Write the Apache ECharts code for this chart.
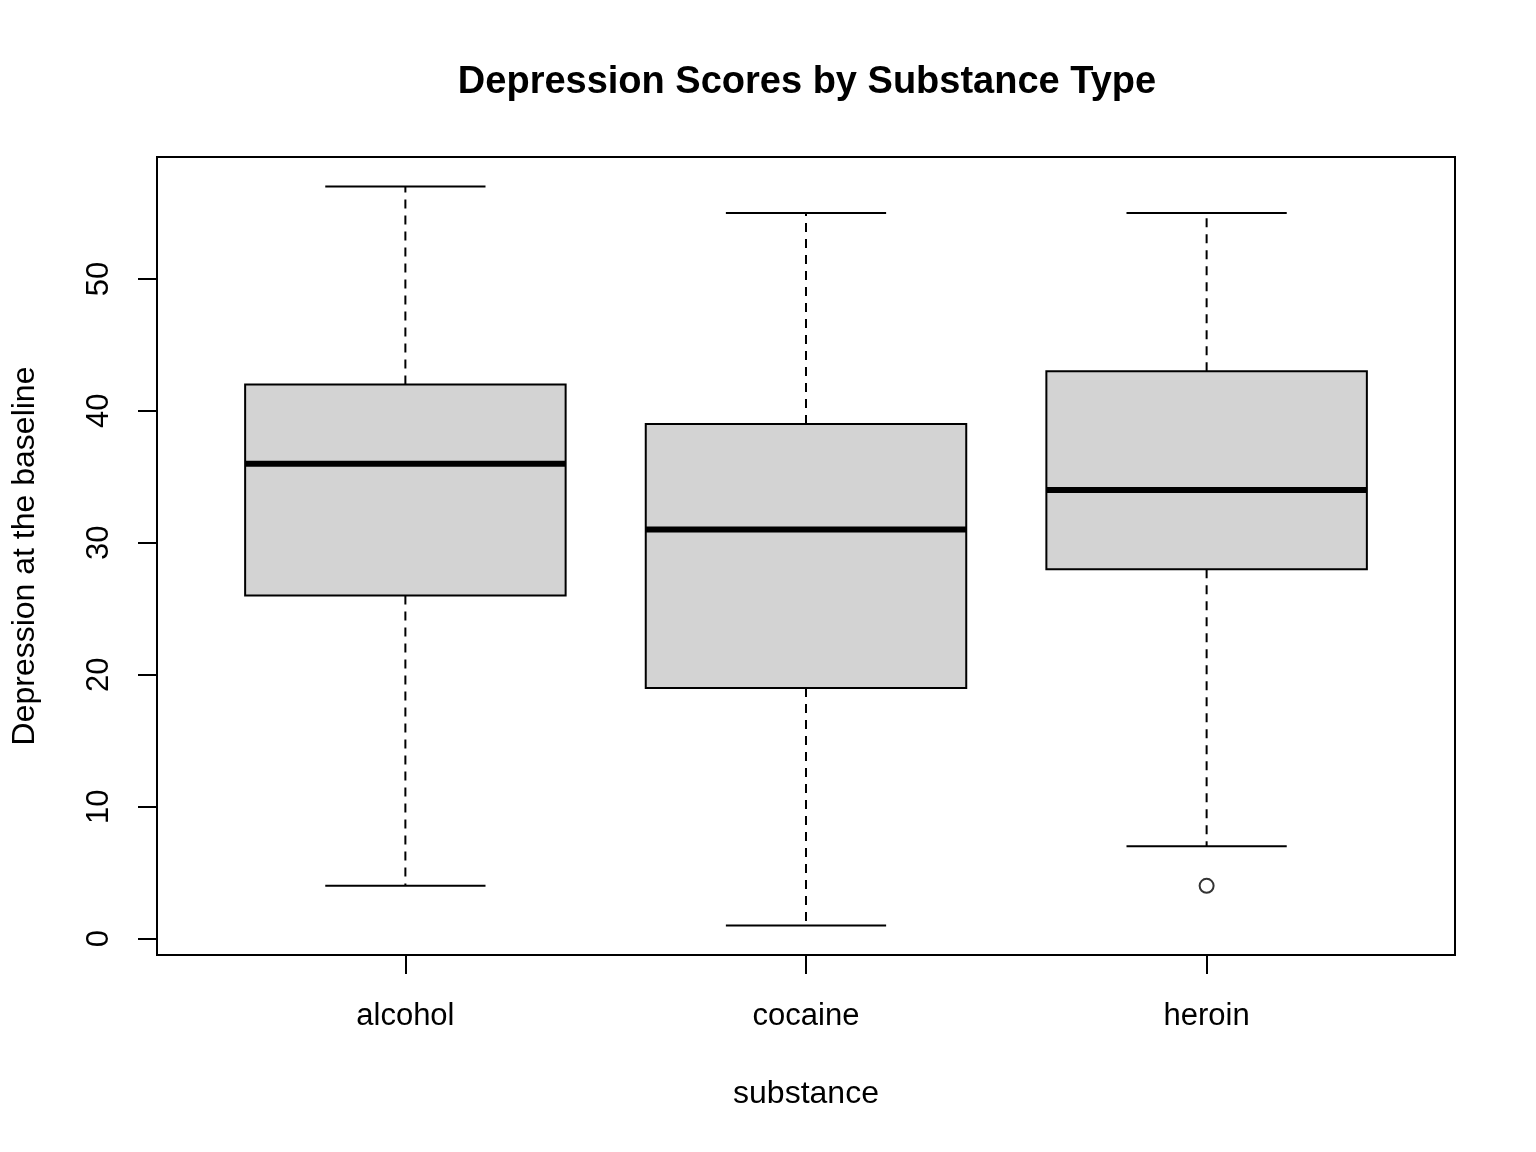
<!DOCTYPE html>
<html>
<head>
<meta charset="utf-8">
<script src="https://cdn.jsdelivr.net/npm/echarts@6/dist/echarts.min.js"></script>
<style>
  html, body { margin: 0; padding: 0; background: #fff; }
  #chart { width: 1536px; height: 1152px; }
</style>
</head>
<body>
<div id="chart"></div>
<script>
// boxplot stats per substance
var categories = ['alcohol', 'cocaine', 'heroin'];
var whiskerLow = [4, 1, 7];
var lowerQuart = [26, 19, 28];
var medians = [36, 31, 34];
var upperQuart = [42, 39, 43];
var whiskerHigh = [57, 55, 55];
// outliers: [category position, value]
var outliers = [[3, 4]];
var yTicks = [0, 10, 20, 30, 40, 50];
var xTicks = [1, 2, 3];

var fontFamily = '"Liberation Sans", Arial, sans-serif';

var boxData = [];
for (var i = 0; i < categories.length; i++) {
    boxData.push([i + 1, whiskerLow[i], lowerQuart[i], medians[i], upperQuart[i], whiskerHigh[i]]);
}

function renderBox(params, api) {
    var x = api.value(0);
    var pMin = api.coord([x, api.value(1)]);
    var pQ1 = api.coord([x, api.value(2)]);
    var pMed = api.coord([x, api.value(3)]);
    var pQ3 = api.coord([x, api.value(4)]);
    var pMax = api.coord([x, api.value(5)]);
    var boxW = api.size([0.8, 0])[0];
    var capW = api.size([0.4, 0])[0];
    var cx = pMed[0];
    var solid = { stroke: '#000', lineWidth: 2 };
    var dashed = { stroke: '#000', lineWidth: 2, lineDash: [9, 7] };
    return {
        type: 'group',
        children: [
            { type: 'line', shape: { x1: cx, y1: pQ3[1], x2: cx, y2: pMax[1] }, style: dashed },
            { type: 'line', shape: { x1: cx, y1: pQ1[1], x2: cx, y2: pMin[1] }, style: dashed },
            { type: 'line', shape: { x1: cx - capW / 2, y1: pMax[1], x2: cx + capW / 2, y2: pMax[1] }, style: solid },
            { type: 'line', shape: { x1: cx - capW / 2, y1: pMin[1], x2: cx + capW / 2, y2: pMin[1] }, style: solid },
            {
                type: 'rect',
                shape: { x: cx - boxW / 2, y: pQ3[1], width: boxW, height: pQ1[1] - pQ3[1] },
                style: { fill: '#d3d3d3', stroke: '#000', lineWidth: 2 }
            },
            { type: 'line', shape: { x1: cx - boxW / 2, y1: pMed[1], x2: cx + boxW / 2, y2: pMed[1] }, style: { stroke: '#000', lineWidth: 6 } }
        ]
    };
}

var myChart = echarts.init(document.getElementById('chart'));
var option = {
    animation: false,
    backgroundColor: '#fff',
    title: {
        text: 'Depression Scores by Substance Type',
        left: 802,
        top: 59,
        textAlign: 'center',
        textStyle: { fontFamily: fontFamily, fontSize: 38, fontWeight: 'bold', color: '#000' }
    },
    grid: {
        left: 157, top: 157, right: 81, bottom: 197,
        show: true, borderColor: '#000', borderWidth: 2, backgroundColor: 'transparent'
    },
    xAxis: {
        type: 'value',
        min: 0.38,
        max: 3.62,
        name: 'substance',
        nameLocation: 'middle',
        nameGap: 139,
        nameTextStyle: { fontFamily: fontFamily, fontSize: 32, color: '#000', verticalAlign: 'middle' },
        axisLine: { show: true, onZero: false, lineStyle: { color: '#000', width: 2 } },
        splitLine: { show: false },
        axisTick: { show: true, inside: false, length: 19, customValues: xTicks, lineStyle: { color: '#000', width: 2 } },
        axisLabel: {
            customValues: xTicks,
            margin: 46,
            fontFamily: fontFamily, fontSize: 31, color: '#000',
            formatter: function (v) { return categories[Math.round(v) - 1]; }
        }
    },
    yAxis: {
        type: 'value',
        min: -1.24,
        max: 59.24,
        name: 'Depression at the baseline',
        nameLocation: 'middle',
        nameGap: 132,
        nameRotate: 90,
        nameTextStyle: { fontFamily: fontFamily, fontSize: 32, color: '#000', verticalAlign: 'middle' },
        axisLine: { show: true, onZero: false, lineStyle: { color: '#000', width: 2 } },
        splitLine: { show: false },
        axisTick: { show: true, inside: false, length: 19, customValues: yTicks, lineStyle: { color: '#000', width: 2 } },
        axisLabel: {
            customValues: yTicks,
            rotate: 90,
            margin: 42,
            fontFamily: fontFamily, fontSize: 31, color: '#000'
        }
    },
    series: [
        {
            type: 'custom',
            renderItem: renderBox,
            encode: { x: 0, y: [1, 2, 3, 4, 5] },
            data: boxData,
            z: 2
        },
        {
            type: 'scatter',
            symbol: 'circle',
            symbolSize: 14,
            itemStyle: { color: '#fff', borderColor: '#000', borderWidth: 2 },
            data: outliers,
            z: 3
        }
    ]
};
myChart.setOption(option);
</script>
</body>
</html>
